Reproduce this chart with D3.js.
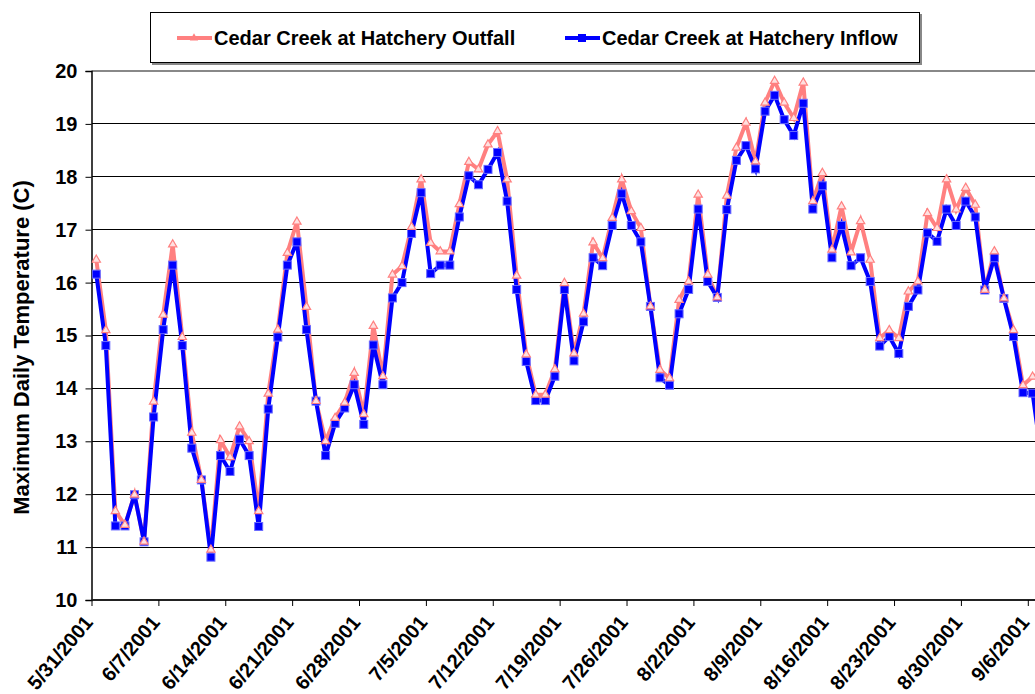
<!DOCTYPE html>
<html><head><meta charset="utf-8">
<script src="https://cdn.jsdelivr.net/npm/d3@7"></script>
<style>
html,body{margin:0;padding:0;background:#fff;}
text{font-family:"Liberation Sans",Arial,sans-serif;font-weight:bold;}
</style></head>
<body><svg id="c" width="1035" height="694"></svg>
<script>
const seriesNames = ["Cedar Creek at Hatchery Outfall", "Cedar Creek at Hatchery Inflow"];
const startDate = "5/31/2001";
const outfall = [16.43,15.10,11.68,11.42,11.99,11.10,13.75,15.39,16.72,14.97,13.16,12.27,10.95,13.02,12.70,13.28,13.00,11.68,13.90,15.11,16.56,17.15,15.54,13.76,13.00,13.44,13.73,14.29,13.51,15.18,14.23,16.15,16.31,17.05,17.95,16.75,16.59,16.59,17.48,18.28,18.14,18.61,18.86,17.95,16.13,14.64,13.88,13.88,14.36,15.99,14.66,15.41,16.76,16.46,17.22,17.95,17.35,17.03,15.55,14.35,14.19,15.67,16.02,17.66,16.15,15.72,17.64,18.55,19.02,18.29,19.40,19.81,19.40,19.11,19.78,17.54,18.07,16.62,17.44,16.57,17.16,16.43,14.95,15.10,14.95,15.83,16.02,17.31,17.03,17.95,17.38,17.79,17.47,15.86,16.59,15.70,15.10,14.06,14.22,14.30];
const inflow = [16.16,14.81,11.40,11.40,11.99,11.10,13.46,15.11,16.33,14.81,12.87,12.27,10.81,12.73,12.43,13.04,12.73,11.39,13.61,14.97,16.33,16.77,15.11,13.76,12.73,13.34,13.63,14.07,13.32,14.82,14.07,15.71,16.00,16.93,17.70,16.17,16.33,16.33,17.24,18.02,17.85,18.14,18.46,17.54,15.87,14.51,13.77,13.77,14.23,15.87,14.52,15.26,16.47,16.32,17.08,17.68,17.08,16.77,15.55,14.20,14.06,15.41,15.87,17.39,16.02,15.72,17.38,18.31,18.59,18.15,19.24,19.54,19.08,18.78,19.39,17.39,17.83,16.47,17.08,16.32,16.47,16.02,14.80,14.98,14.66,15.55,15.86,16.94,16.78,17.39,17.08,17.54,17.24,15.86,16.47,15.70,14.98,13.92,13.91,12.60];
const xTickLabels = ["5/31/2001","6/7/2001","6/14/2001","6/21/2001","6/28/2001","7/5/2001","7/12/2001","7/19/2001","7/26/2001","8/2/2001","8/9/2001","8/16/2001","8/23/2001","8/30/2001","9/6/2001"];
const yTicks = [10,11,12,13,14,15,16,17,18,19,20];
const yTitle = "Maximum Daily Temperature (C)";

const parse = d3.timeParse("%m/%d/%Y");
const fmt = d3.timeFormat("%-m/%-d/%Y");
const t0 = parse(startDate);
const dates = outfall.map((_, i) => d3.timeDay.offset(t0, i));
const tickDates = xTickLabels.map(parse);

const svg = d3.select("#c");
const W = 1035, H = 694;
const L = 91.5, T = 71, B = 600;
const FF = "'Liberation Sans',Arial,sans-serif";

const x = d3.scaleTime().domain([parse("5/31/2001"), parse("9/6/2001")]).range([L, 1027.8]);
const y = d3.scaleLinear().domain([10, 20]).range([B, T]);
const px = d => x(d3.timeHour.offset(d, 12));

svg.append("rect").attr("width", W).attr("height", H).attr("fill", "#fff");

// gridlines
svg.append("g").selectAll("line").data(yTicks.filter(v => v > 10 && v < 20)).join("line")
  .attr("x1", L).attr("x2", W).attr("y1", d => y(d)).attr("y2", d => y(d))
  .attr("stroke", "#000").attr("stroke-width", 1).attr("shape-rendering", "crispEdges");
// top border
svg.append("line").attr("x1", L).attr("x2", W).attr("y1", y(20)).attr("y2", y(20))
  .attr("stroke", "#888").attr("stroke-width", 2);

// y axis
const yAxis = d3.axisLeft(y).tickValues(yTicks).tickSize(6).tickPadding(8).tickFormat(d3.format("d"));
const gy = svg.append("g").attr("transform", `translate(${L},0)`).call(yAxis);
gy.select(".domain").attr("stroke", "#000").attr("stroke-width", 1.5);
gy.selectAll(".tick line").attr("stroke", "#000");
gy.selectAll(".tick text").attr("font-size", 20).attr("fill", "#000")
  .style("font-family", FF).style("font-weight", "bold");

// x axis
const xAxis = d3.axisBottom(x).tickValues(tickDates).tickSize(6).tickFormat(fmt);
const gx = svg.append("g").attr("transform", `translate(0,${B})`).call(xAxis);
gx.select(".domain").attr("stroke", "#222").attr("stroke-width", 2).attr("d", `M${L},0H${W}`);
gx.selectAll(".tick line").attr("stroke", "#000");
gx.selectAll(".tick text").attr("font-size", 20).attr("fill", "#000")
  .style("font-family", FF).style("font-weight", "bold")
  .attr("text-anchor", "end").attr("dy", 0).attr("y", 0)
  .attr("transform", "translate(2,23) rotate(-50)");

// y title
svg.append("text").attr("transform", `translate(29,${(T + B) / 2 + 12}) rotate(-90)`)
  .attr("text-anchor", "middle").attr("font-size", 22).text(yTitle);

// lines
const line = arr => d3.line().x((d, i) => px(dates[i])).y(d => y(d))(arr);
const clip = svg.append("clipPath").attr("id", "clp").append("rect")
  .attr("x", L).attr("y", 0).attr("width", W - L).attr("height", H);
const plot = svg.append("g").attr("clip-path", "url(#clp)");
plot.append("path").attr("d", line(outfall)).attr("fill", "none").attr("stroke", "#ff8080")
  .attr("stroke-width", 4).attr("stroke-linejoin", "miter");
plot.append("path").attr("d", line(inflow)).attr("fill", "none").attr("stroke", "#0000ff")
  .attr("stroke-width", 4).attr("stroke-linejoin", "miter");
plot.append("g").selectAll("rect").data(inflow).join("rect")
  .attr("x", (d, i) => px(dates[i]) - 4).attr("y", d => y(d) - 4).attr("width", 8).attr("height", 8)
  .attr("fill", "#0000ff").attr("stroke", "#6a6aff").attr("stroke-width", 1);
const tri = d3.symbol().type(d3.symbolTriangle).size(30);
plot.append("g").selectAll("path").data(outfall).join("path")
  .attr("d", tri).attr("transform", (d, i) => `translate(${px(dates[i])},${y(d)})`)
  .attr("fill", "#ffe0e0").attr("stroke", "#ff8080").attr("stroke-width", 1.2);

// legend
const lg = svg.append("g");
lg.append("rect").attr("x", 152).attr("y", 14).attr("width", 770).attr("height", 51).attr("fill", "#888");
lg.append("rect").attr("x", 150.5).attr("y", 12.5).attr("width", 769).attr("height", 50)
  .attr("fill", "#fff").attr("stroke", "#000").attr("stroke-width", 1);
const items = [{name: seriesNames[0], c: "#ff8080", x: 177, sym: "tri"}, {name: seriesNames[1], c: "#0000ff", x: 565, sym: "sq"}];
items.forEach(it => {
  lg.append("line").attr("x1", it.x).attr("x2", it.x + 35).attr("y1", 38).attr("y2", 38)
    .attr("stroke", it.c).attr("stroke-width", 4);
  if (it.sym === "sq") lg.append("rect").attr("x", it.x + 13).attr("y", 34).attr("width", 8).attr("height", 8).attr("fill", "#0000ff");
  else lg.append("path").attr("d", tri).attr("transform", `translate(${it.x + 17},38)`).attr("fill", "#ff8080");
  lg.append("text").attr("x", it.x + 37).attr("y", 45).attr("font-size", 20).text(it.name);
});
</script></body></html>
